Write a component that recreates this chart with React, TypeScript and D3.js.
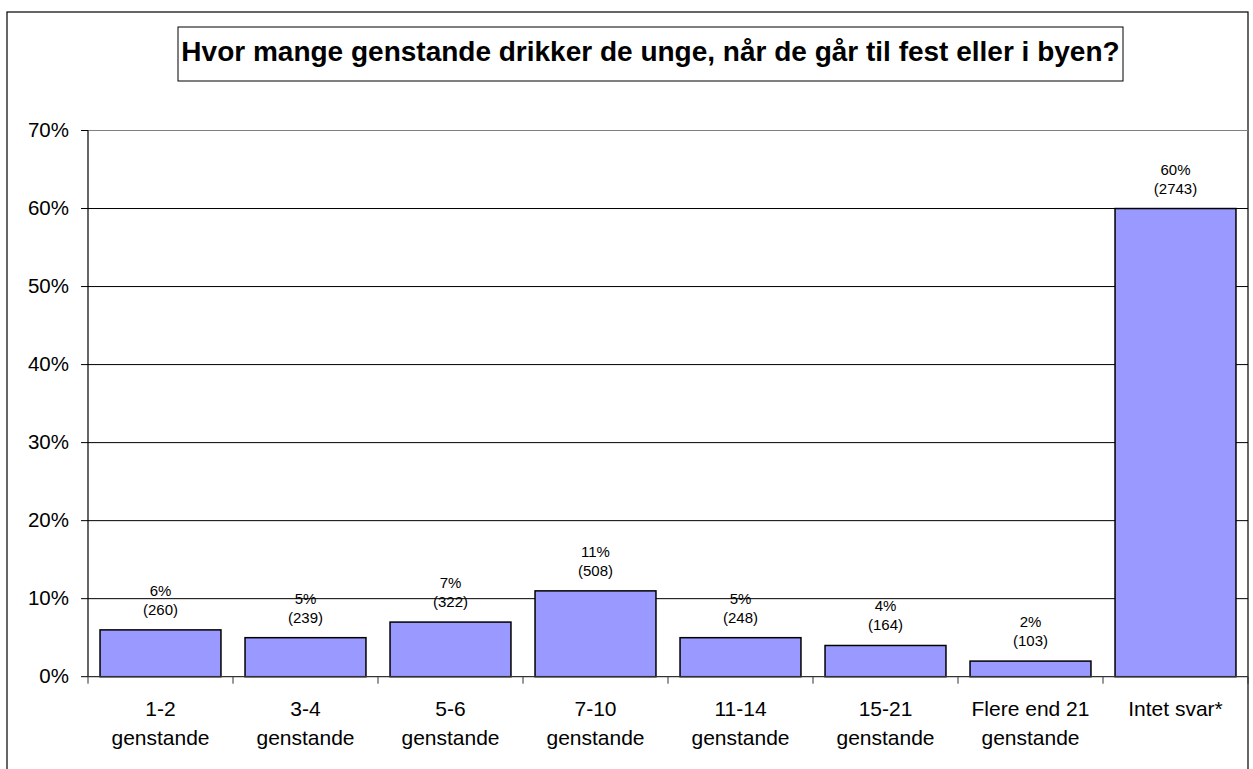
import React from "react";
import * as d3 from "d3";

const categories: string[][] = [
  ["1-2", "genstande"],
  ["3-4", "genstande"],
  ["5-6", "genstande"],
  ["7-10", "genstande"],
  ["11-14", "genstande"],
  ["15-21", "genstande"],
  ["Flere end 21", "genstande"],
  ["Intet svar*"],
];
const percents: number[] = [6, 5, 7, 11, 5, 4, 2, 60];
const counts: number[] = [260, 239, 322, 508, 248, 164, 103, 2743];
const yTicks: number[] = [0, 10, 20, 30, 40, 50, 60, 70];
const title = "Hvor mange genstande drikker de unge, når de går til fest eller i byen?";

export default function App() {
  const W = 1253, H = 769;
  const left = 88, right = 1248, top = 130.5, bottom = 676.7;
  const x = d3.scaleBand<number>().domain(d3.range(categories.length)).range([left, right]).paddingInner(0.166).paddingOuter(0.083);
  const band = d3.scaleBand<number>().domain(d3.range(categories.length)).range([left, right]);
  const y = d3.scaleLinear().domain([0, 70]).range([bottom, top]);
  const font = "Arial, 'Liberation Sans', sans-serif";
  return (
    <svg width={W} height={H} style={{ position: "absolute", left: 0, top: 0 }} fontFamily={font}>
      <rect x={0} y={0} width={W} height={H} fill="#fff" />
      <rect x={7} y={12} width={1241} height={800} fill="#fff" stroke="#000" strokeWidth={1.2} />
      <rect x={178} y={27} width={945} height={54} fill="#fff" stroke="#000" strokeWidth={1} />
      <text x={650.5} y={61} textAnchor="middle" fontSize={28} fontWeight="bold" fill="#000">{title}</text>
      {yTicks.map((t) => (
        <g key={t}>
          {t > 0 && (
            <line x1={left} x2={right} y1={y(t)} y2={y(t)} stroke={t === 70 ? "#808080" : "#000"} strokeWidth={1} />
          )}
          <line x1={left - 7} x2={left} y1={y(t)} y2={y(t)} stroke="#000" />
          <text x={69} y={y(t) + 6.5} textAnchor="end" fontSize={20.5} fill="#000">{t}%</text>
        </g>
      ))}
      {percents.map((p, i) => (
        <g key={i}>
          <rect x={x(i)!} y={y(p)} width={x.bandwidth()} height={bottom - y(p)} fill="#9999FF" stroke="#000" strokeWidth={1.5} />
          <text x={x(i)! + x.bandwidth() / 2} y={y(p) - 34} textAnchor="middle" fontSize={15} fill="#000">{p}%</text>
          <text x={x(i)! + x.bandwidth() / 2} y={y(p) - 15} textAnchor="middle" fontSize={15} fill="#000">({counts[i]})</text>
        </g>
      ))}
      <line x1={left} x2={left} y1={top} y2={bottom} stroke="#000" strokeWidth={1.2} />
      <line x1={left} x2={right} y1={bottom} y2={bottom} stroke="#333" strokeWidth={1.2} />
      {d3.range(categories.length + 1).map((i) => {
        const xx = i < categories.length ? band(i)! : right;
        return <line key={i} x1={xx} x2={xx} y1={bottom} y2={bottom + 7} stroke="#333" />;
      })}
      {categories.map((lines, i) => (
        <text key={i} x={band(i)! + band.bandwidth() / 2} textAnchor="middle" fontSize={21} fill="#000">
          {lines.map((l, j) => (
            <tspan key={j} x={band(i)! + band.bandwidth() / 2} y={716 + j * 29}>{l}</tspan>
          ))}
        </text>
      ))}
    </svg>
  );
}
